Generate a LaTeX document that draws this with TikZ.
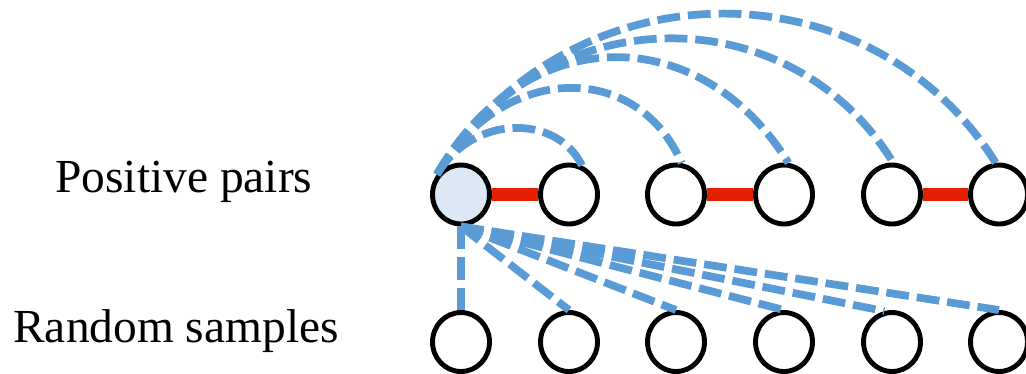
\documentclass[tikz,border=0pt]{standalone}
\usepackage{fontspec}
\setmainfont{Liberation Serif}
\newfontfamily\timesfam{Liberation Serif}
\usetikzlibrary{shapes.geometric}
\definecolor{arcblue}{RGB}{91,155,213}
\definecolor{barred}{RGB}{228,32,0}
\definecolor{lightfill}{RGB}{220,232,244}
\tikzset{
  ball/.style={ellipse, draw=black, line width=2.8pt, minimum width=1.14cm, minimum height=1.18cm, inner sep=0pt, fill=white},
  anchorball/.style={ball, fill=lightfill},
  redbar/.style={draw=barred, line width=7.4pt},
  bluedash/.style={draw=arcblue, line width=4.4pt, dash pattern=on 13pt off 4.5pt},
  lbl/.style={font=\timesfam\fontsize{27}{32}\selectfont, inner sep=0pt}
}
\begin{document}
\begin{tikzpicture}[x=0.02cm, y=-0.02cm]
\useasboundingbox (0,0) rectangle (1026,373);
% labels
\node[lbl, anchor=base west] (lp) at (55,192) {Positive pairs};
\node[lbl, anchor=base west] (lr) at (13,342) {Random samples};
% top row
\node[anchorball] (t1) at (461,194.5) {};
\node[ball] (t2) at (569,194.5) {};
\node[ball] (t3) at (676,194.5) {};
\node[ball] (t4) at (784,194.5) {};
\node[ball] (t5) at (892,194.5) {};
\node[ball] (t6) at (999,194.5) {};
% bottom row
\node[ball] (b1) at (461,342) {};
\node[ball] (b2) at (569,342) {};
\node[ball] (b3) at (676,342) {};
\node[ball] (b4) at (784,342) {};
\node[ball] (b5) at (892,342) {};
\node[ball] (b6) at (999,342) {};
% positive pairs
\draw[redbar] (t1) -- (t2);
\draw[redbar] (t3) -- (t4);
\draw[redbar] (t5) -- (t6);
% arcs
\draw[bluedash] (t1.140) .. controls (473,114) and (557,114) .. (t2.66);
\draw[bluedash] (t1.140) .. controls (503,61) and (638,61) .. (t3.80);
\draw[bluedash] (t1.140) .. controls (525,20) and (700,20) .. (t4.82);
\draw[bluedash] (t1.140) .. controls (545,-5) and (790,-5) .. (t5.88);
\draw[bluedash] (t1.140) .. controls (570,-38) and (870,-38) .. (t6.96);
% random samples
\draw[bluedash] (t1.south) -- (b1.north);
\draw[bluedash] (t1.south) -- (b2.north);
\draw[bluedash] (t1.south) -- (b3.north);
\draw[bluedash] (t1.south) -- (b4.north);
\draw[bluedash] (t1.south) -- (b5.104);
\draw[bluedash] (t1.south) -- (b6.north);
\end{tikzpicture}
\end{document}
